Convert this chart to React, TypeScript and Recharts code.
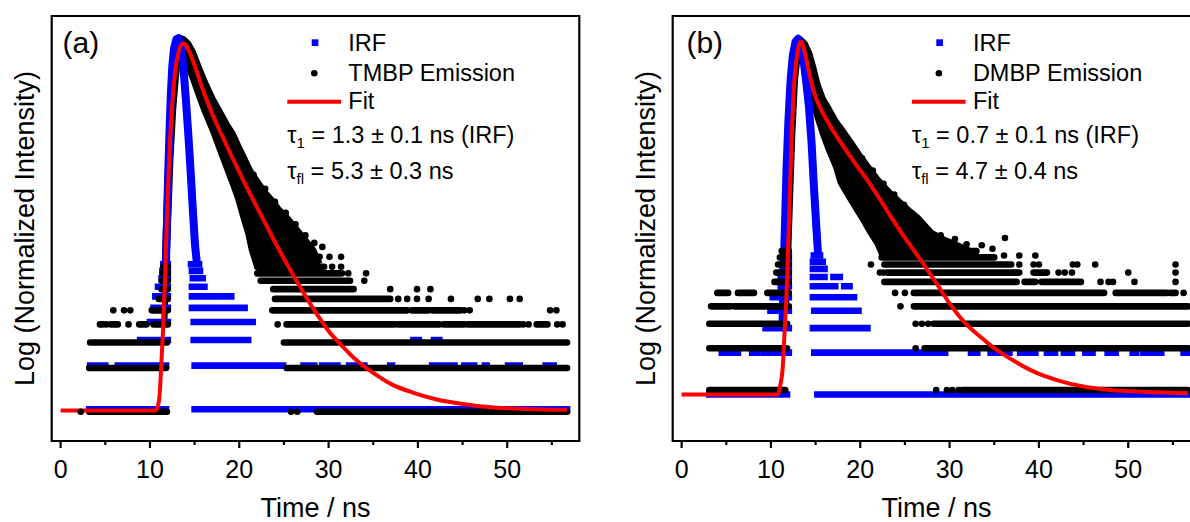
import React from "react";
import { ComposedChart, Line, Area, Scatter, XAxis, YAxis, ReferenceArea } from "recharts";

const FONT = "'Liberation Sans', Arial, Helvetica, sans-serif";
const BLUE = "#0000ff";
const RED = "#ff0000";
const BLACK = "#000000";

// ---------------- axes ----------------
const xTicks = [0, 5, 10, 15, 20, 25, 30, 35, 40, 45, 50, 55];
const xDomain: [number, number] = [-1.0, 58.07];
const yDomainA: [number, number] = [0.628, 536];
const yDomainB: [number, number] = [0.43, 491];

// photon-count levels (plotted values) of the banded rows
const emisLevels = [1, 2, 3, 4, 5, 6, 7, 8, 9, 10];
const irfLevelsA = [1.04, 2.08, 3.12, 4.16, 5.2, 6.24, 7.28, 8.32, 9.36, 10.4];
const irfLevelsB = [0.93, 1.86, 2.79, 3.72, 4.65, 5.58, 6.51, 7.44, 8.37, 9.3];

type Band = [number, number, number]; // [level, t start, t end]
type Pt = [number, number]; // [t, value]
type Cloud = [number, number, number]; // [t, low, high]

// ---------------- panel (a) ----------------
const irfBandsA: Band[] = [
  [1, 3.2, 11.8], [1, 15.0, 56.7],
  [2, 3.3, 4.0], [2, 4.4, 5.0], [2, 6.4, 8.2], [2, 8.6, 11.8], [2, 15.0, 24.9], [2, 27.2, 28.4],
  [2, 29.3, 31.0], [2, 32.3, 34.0], [2, 36.9, 37.1], [2, 41.6, 44.1], [2, 45.2, 46.3], [2, 47.5, 47.7],
  [2, 50.1, 51.4], [2, 54.3, 55.2],
  [3, 8.9, 12.0], [3, 14.9, 21.0], [3, 39.5, 40.1], [3, 41.8, 42.4],
  [4, 10.0, 12.0], [4, 14.9, 20.6], [4, 20.8, 21.5],
  [5, 10.4, 12.0], [5, 14.7, 20.0], [5, 20.2, 20.6],
  [6, 10.6, 12.0], [6, 14.7, 19.1],
  [7, 10.9, 12.0], [7, 14.7, 16.1],
  [8, 11.3, 12.0], [8, 14.8, 15.9],
  [9, 11.4, 12.0], [9, 14.7, 15.6],
  [10, 11.5, 12.0], [10, 14.6, 15.5],
];
const irfPeakA: Pt[] = [
  [11.75, 8], [11.9, 20], [12.05, 45], [12.2, 90], [12.35, 160], [12.5, 240], [12.7, 320], [12.95, 370],
  [13.2, 377], [13.45, 340], [13.65, 270], [13.85, 195], [14.05, 135], [14.25, 90], [14.45, 58],
  [14.65, 36], [14.85, 22], [15.05, 14], [15.3, 10],
];
const emisBandsA: Band[] = [
  [1, 3.2, 11.9], [1, 28.7, 56.7],
  [2, 3.2, 11.8], [2, 25.3, 56.7],
  [3, 3.3, 11.9], [3, 25.0, 56.7],
  [4, 4.4, 4.7], [4, 5.6, 6.4], [4, 8.8, 9.6], [4, 10.4, 12.0], [4, 25.3, 37.4], [4, 37.8, 42.4],
  [4, 42.9, 45.2], [4, 45.6, 51.4], [4, 53.3, 54.5],
  [5, 10.2, 12.0], [5, 23.7, 38.8], [5, 39.3, 41.2], [5, 41.6, 44.8],
  [6, 11.0, 12.0], [6, 24.0, 36.9],
  [7, 11.3, 12.0], [7, 23.8, 32.8],
  [8, 11.3, 12.0], [8, 22.4, 32.4],
  [9, 11.4, 12.0], [9, 22.0, 31.5],
  [10, 11.5, 12.0], [10, 22.0, 29.5],
];
const emisDotsA: Pt[] = [
  [2.25, 1], [25.8, 1], [26.5, 1],
  [5.1, 4], [7.6, 4], [24.3, 4], [51.8, 4], [52.4, 4], [55.6, 4], [56.2, 4],
  [5.9, 5], [7.1, 5], [7.8, 5], [45.2, 5], [45.8, 5], [54.8, 5], [55.5, 5],
  [37.8, 6], [38.8, 6], [39.9, 6], [41.2, 6], [43.7, 6], [46.7, 6], [48.0, 6], [50.3, 6], [51.4, 6],
  [36.9, 7], [39.9, 7], [41.4, 7],
  [34.0, 8],
  [32.2, 9], [34.2, 9],
  [30.4, 10], [31.4, 10],
  [29.0, 11.7], [30.1, 11.7], [31.4, 11.7], [29.3, 13.7],
  [28.4, 14.6], [27.4, 16.5], [26.3, 19.6], [25.2, 23.5], [24.0, 28], [22.9, 34.5], [21.6, 43],
  [20.6, 54], [19.4, 70], [18.3, 88],
];
const emisCloudA: Cloud[] = [
  [11.6, 4, 8], [11.8, 8, 20], [12.0, 18, 45], [12.3, 55, 110], [12.6, 120, 210], [12.9, 200, 300],
  [13.2, 290, 360], [13.5, 330, 377], [13.8, 300, 370], [14.3, 240, 345], [14.85, 195, 300],
  [15.5, 150, 235], [16.2, 115, 185], [17.0, 88, 145], [17.8, 65, 118], [18.6, 48, 96], [19.3, 37, 82],
  [19.9, 29, 68], [20.45, 22, 58], [21.0, 17, 49], [21.4, 13, 44], [22.0, 10, 39], [22.8, 9.5, 33],
  [23.6, 9.5, 29], [24.4, 9.5, 25], [25.3, 9.5, 22], [26.0, 9.5, 19.5], [26.8, 9.5, 17], [27.5, 9.5, 15],
  [28.3, 9.5, 13], [29.0, 9.5, 10.5],
];
const fitA: Pt[] = [
  [0, 1.02], [10.6, 1.02], [10.9, 1.1], [11.1, 1.35], [11.3, 2.3], [11.5, 4.0], [11.7, 8.5], [11.9, 22],
  [12.1, 45], [12.3, 85], [12.6, 160], [12.9, 240], [13.2, 300], [13.5, 338], [13.75, 346], [14.0, 338],
  [14.4, 305], [15.0, 245], [15.8, 175], [16.8, 120], [18.0, 82], [19.2, 57], [20.5, 39], [21.8, 27],
  [23.0, 19.5], [24.2, 14], [25.4, 10.3], [26.5, 7.8], [27.6, 6.0], [28.8, 4.6], [30.0, 3.6], [31.5, 2.85],
  [33.0, 2.3], [35.0, 1.85], [37.0, 1.55], [39.5, 1.35], [42.0, 1.22], [45.0, 1.13], [48.5, 1.07],
  [52.0, 1.045], [56.7, 1.03],
];

// ---------------- panel (b) ----------------
const irfBandsB: Band[] = [
  [1, 3.1, 11.8], [1, 15.2, 56.7],
  [2, 4.5, 5.3], [2, 5.5, 6.3], [2, 7.9, 8.5], [2, 9.25, 12.0], [2, 14.85, 21.7], [2, 21.9, 22.7],
  [2, 23.1, 23.9], [2, 24.4, 25.1], [2, 25.7, 28.2], [2, 28.7, 29.5], [2, 32.4, 33.1], [2, 34.6, 35.2],
  [2, 35.8, 36.7], [2, 37.9, 39.6], [2, 40.9, 41.8], [2, 42.8, 43.7], [2, 45.2, 46.0], [2, 47.7, 48.6],
  [2, 50.5, 50.9], [2, 51.7, 52.4], [2, 53.0, 53.7], [2, 56.2, 56.7],
  [3, 9.4, 12.0], [3, 14.7, 20.8],
  [4, 9.95, 12.0], [4, 14.85, 19.8],
  [5, 10.2, 12.0], [5, 14.7, 16.4], [5, 17.0, 19.3],
  [6, 11.1, 12.0], [6, 14.7, 16.4], [6, 16.6, 17.2], [6, 18.2, 18.8],
  [7, 11.1, 12.0], [7, 14.7, 16.0], [7, 17.0, 17.7],
  [8, 11.3, 12.0], [8, 14.7, 16.0],
  [9, 11.5, 12.0], [9, 14.7, 15.8],
  [10, 11.6, 12.0], [10, 14.8, 15.5],
];
const irfPeakB: Pt[] = [
  [11.3, 3], [11.45, 8], [11.6, 18], [11.75, 40], [11.95, 85], [12.2, 170], [12.45, 255], [12.75, 320],
  [13.05, 337], [13.35, 305], [13.65, 235], [13.95, 165], [14.25, 110], [14.55, 60], [14.8, 30],
  [15.05, 16], [15.3, 9],
];
const emisBandsB: Band[] = [
  [1, 3.1, 11.6], [1, 31.4, 56.7],
  [2, 3.1, 11.8], [2, 27.2, 56.7],
  [3, 3.1, 11.8], [3, 28.2, 56.7],
  [4, 3.3, 5.5], [4, 5.9, 9.6], [4, 9.8, 12.0], [4, 26.0, 56.7],
  [5, 4.0, 5.2], [5, 6.3, 8.1], [5, 9.6, 12.0], [5, 26.0, 47.3], [5, 48.6, 54.3], [5, 54.7, 55.3],
  [6, 10.4, 12.0], [6, 22.7, 37.5], [6, 38.4, 39.6], [6, 40.3, 44.7],
  [7, 10.6, 12.0], [7, 23.0, 37.8], [7, 39.4, 40.9],
  [8, 10.8, 12.0], [8, 22.7, 36.9],
  [9, 11.0, 12.0], [9, 22.4, 35.0],
  [10, 11.2, 12.0], [10, 22.4, 33.0],
];
const emisDotsB: Pt[] = [
  [28.5, 1], [29.7, 1], [30.3, 1], [31.0, 1],
  [26.2, 2],
  [26.2, 3], [26.9, 3], [27.6, 3],
  [24.5, 4],
  [23.9, 5], [25.0, 5], [56.2, 5],
  [46.9, 6], [47.8, 6], [48.3, 6], [50.7, 6], [55.3, 6],
  [22.2, 7], [22.6, 7], [42.2, 7], [42.9, 7], [43.7, 7], [50.0, 7], [55.3, 7],
  [21.2, 8], [37.8, 8], [39.4, 8], [40.0, 8], [43.8, 8], [44.3, 8], [46.3, 8], [55.3, 8],
  [36.1, 9.3], [37.8, 9.3], [39.6, 9.3],
  [36.2, 12.4], [27.6, 12.6], [29.0, 13.0], [30.6, 12.2], [31.9, 11.2], [33.6, 11.0], [34.8, 10.4],
  [25.9, 18.4], [24.9, 21.5], [23.8, 25.5], [22.6, 30.5], [21.4, 38], [20.2, 46.5], [18.9, 59],
];
const emisCloudB: Cloud[] = [
  [11.7, 4, 8], [11.9, 8, 20], [12.1, 20, 50], [12.4, 70, 150], [12.7, 170, 255], [13.0, 255, 320],
  [13.3, 300, 333], [13.8, 240, 310], [14.3, 170, 265], [14.7, 122, 215], [15.2, 92, 160],
  [15.8, 70, 125], [16.5, 53, 105], [17.3, 40, 85], [17.8, 31, 77], [19.0, 23, 60], [20.1, 17.7, 47],
  [21.2, 13.4, 38], [21.9, 11.4, 33], [22.4, 9.6, 30.5], [23.5, 9.5, 25.5], [24.6, 9.5, 22],
  [25.5, 9.5, 19.5], [26.4, 9.5, 17.5], [28.0, 9.5, 13.5], [29.5, 9.5, 12], [30.9, 9.5, 11],
  [32.0, 9.5, 10.2], [33.0, 9.5, 9.6],
];
const fitB: Pt[] = [
  [0, 0.93], [10.8, 0.93], [11.0, 1.05], [11.3, 1.4], [11.55, 2.8], [11.8, 6], [12.0, 15], [12.3, 60],
  [12.6, 160], [12.9, 250], [13.15, 305], [13.35, 320], [13.6, 300], [13.9, 250], [14.3, 190],
  [14.8, 140], [15.5, 108], [16.5, 82], [18.0, 58], [19.5, 42], [21.0, 31], [22.5, 22], [24.0, 15.5],
  [25.5, 11.2], [27.0, 8.2], [28.5, 5.9], [30.0, 4.2], [31.8, 3.0], [33.5, 2.4], [35.0, 2.0],
  [37.0, 1.65], [39.5, 1.35], [42.0, 1.18], [45.0, 1.06], [48.0, 1.0], [52.0, 0.97], [56.7, 0.95],
];

// ---------------- helpers ----------------
function bandSeries(bands: Band[], levels: number[]) {
  const byLevel = new Map<number, Band[]>();
  bands.forEach((b) => {
    if (!byLevel.has(b[0])) byLevel.set(b[0], []);
    byLevel.get(b[0])!.push(b);
  });
  return Array.from(byLevel.entries()).map(([lvl, list]) => {
    const sorted = [...list].sort((a, b) => a[1] - b[1]);
    const data: { t: number; v: number | null }[] = [];
    sorted.forEach((b, i) => {
      if (i > 0) data.push({ t: (sorted[i - 1][2] + b[1]) / 2, v: null });
      data.push({ t: b[1], v: levels[lvl - 1] }, { t: b[2], v: levels[lvl - 1] });
    });
    return { lvl, data };
  });
}
const toRows = (pts: Pt[]) => pts.map(([t, v]) => ({ t, v }));
const toCloud = (c: Cloud[]) => c.map(([t, lo, hi]) => ({ t, r: [lo, hi] }));

const Tick = (props: any) => {
  const { x, y, payload } = props;
  const major = payload.value % 10 === 0;
  return (
    <g>
      <line x1={x} x2={x} y1={y} y2={y + (major ? 7 : 4)} stroke={BLACK} strokeWidth={2.2} />
      {major && (
        <text x={x} y={y + 36.5} textAnchor="middle" fontSize={25} fontFamily={FONT} fill={BLACK}>
          {payload.value}
        </text>
      )}
    </g>
  );
};

const dotShape = (p: any) => <circle cx={p.cx} cy={p.cy} r={3.3} fill={BLACK} />;

interface PanelProps {
  left: number;
  tag: string;
  sample: string;
  tau1: string;
  taufl: string;
  yDomain: [number, number];
  irfLevels: number[];
  irfBands: Band[];
  irfPeak: Pt[];
  emisBands: Band[];
  emisDots: Pt[];
  emisCloud: Cloud[];
  fit: Pt[];
  dx: number;
  tagDx: number;
}

const W = 600;
const H = 522;
const margin = { top: 16, right: 20.7, bottom: 51, left: 51.7 };

function Panel(p: PanelProps) {
  const irfSeries = bandSeries(p.irfBands, p.irfLevels);
  const emisSeries = bandSeries(p.emisBands, emisLevels);
  const plotCx = margin.left + (W - margin.left - margin.right) / 2;
  const plotCy = margin.top + (H - margin.top - margin.bottom - 30) / 2;
  return (
    <div style={{ position: "absolute", left: p.left, top: 0, width: W, height: H }}>
      <ComposedChart width={W} height={H} margin={margin}>
        <XAxis
          type="number"
          dataKey="t"
          domain={xDomain}
          allowDataOverflow
          ticks={xTicks}
          interval={0}
          tick={<Tick />}
          tickLine={false}
          axisLine={false}
          tickSize={0}
          tickMargin={0}
          height={30}
        />
        <YAxis type="number" dataKey="v" scale="log" domain={p.yDomain} allowDataOverflow hide />
        {irfSeries.map((s) => (
          <Line
            key={"irf" + s.lvl}
            data={s.data}
            dataKey="v"
            stroke={BLUE}
            strokeWidth={6.6}
            strokeLinecap="square"
            dot={false}
            activeDot={false}
            isAnimationActive={false}
          />
        ))}
        <Line
          data={toRows(p.irfPeak)}
          dataKey="v"
          stroke={BLUE}
          strokeWidth={8}
          strokeLinejoin="round"
          dot={false}
          activeDot={false}
          isAnimationActive={false}
        />
        <Area
          data={toCloud(p.emisCloud)}
          dataKey="r"
          type="linear"
          stroke={BLACK}
          strokeWidth={6}
          strokeLinejoin="round"
          fill={BLACK}
          fillOpacity={1}
          dot={false}
          activeDot={false}
          isAnimationActive={false}
        />
        {emisSeries.map((s) => (
          <Line
            key={"em" + s.lvl}
            data={s.data}
            dataKey="v"
            stroke={BLACK}
            strokeWidth={6.6}
            strokeLinecap="round"
            dot={false}
            activeDot={false}
            isAnimationActive={false}
          />
        ))}
        <Scatter data={toRows(p.emisDots)} dataKey="v" shape={dotShape} isAnimationActive={false} />
        <Line
          data={toRows(p.fit)}
          dataKey="v"
          type="monotone"
          stroke={RED}
          strokeWidth={4}
          dot={false}
          activeDot={false}
          isAnimationActive={false}
        />
        <ReferenceArea
          x1={xDomain[0]}
          x2={xDomain[1]}
          y1={p.yDomain[0]}
          y2={p.yDomain[1]}
          fill="none"
          fillOpacity={0}
          stroke={BLACK}
          strokeWidth={2.2}
          ifOverflow="visible"
        />
      </ComposedChart>
      <svg
        width={W}
        height={H}
        style={{ position: "absolute", left: 0, top: 0, pointerEvents: "none" }}
        fontFamily={FONT}
      >
        <text x={62.5 + p.tagDx} y={53} fontSize={30} fill={BLACK}>
          {"(" + p.tag + ")"}
        </text>
        <rect x={311.7 + p.dx} y={39.3} width={6.7} height={6.7} fill={BLUE} />
        <text x={348.3 + p.dx} y={50.7} fontSize={23.5} fill={BLACK}>
          IRF
        </text>
        <circle cx={314.3 + p.dx} cy={73.3} r={3.3} fill={BLACK} />
        <text x={348.3 + p.dx} y={81} fontSize={23.5} fill={BLACK}>
          {p.sample + " Emission"}
        </text>
        <line x1={287.3 + p.dx} x2={341 + p.dx} y1={101.7} y2={101.7} stroke={RED} strokeWidth={4} />
        <text x={348.3 + p.dx} y={109} fontSize={23.5} fill={BLACK}>
          Fit
        </text>
        <text x={287.3 + p.dx} y={143.3} fontSize={23.5} fill={BLACK}>
          τ
          <tspan dy={5} fontSize={15}>
            1
          </tspan>
          <tspan dy={-5}>{" = " + p.tau1}</tspan>
        </text>
        <text x={287.3 + p.dx} y={179.3} fontSize={23.5} fill={BLACK}>
          τ
          <tspan dy={5} fontSize={15}>
            fl
          </tspan>
          <tspan dy={-5}>{" = " + p.taufl}</tspan>
        </text>
        <text
          transform={`translate(34.1, ${plotCy}) rotate(-90)`}
          textAnchor="middle"
          fontSize={27}
          fill={BLACK}
        >
          Log (Normalized Intensity)
        </text>
        <text x={plotCx} y={517} textAnchor="middle" fontSize={27} fill={BLACK}>
          Time / ns
        </text>
      </svg>
    </div>
  );
}

export default function App() {
  return (
    <div
      style={{
        position: "absolute",
        left: 0,
        top: 0,
        width: 1190,
        height: 522,
        overflow: "hidden",
        background: "#ffffff",
      }}
    >
      <Panel
        left={0}
        tag="a"
        sample="TMBP"
        tau1="1.3 ± 0.1 ns (IRF)"
        taufl="5.3 ± 0.3 ns"
        yDomain={yDomainA}
        irfLevels={irfLevelsA}
        irfBands={irfBandsA}
        irfPeak={irfPeakA}
        emisBands={emisBandsA}
        emisDots={emisDotsA}
        emisCloud={emisCloudA}
        fit={fitA}
        dx={0}
        tagDx={0}
      />
      <Panel
        left={620.6}
        tag="b"
        sample="DMBP"
        tau1="0.7 ± 0.1 ns (IRF)"
        taufl="4.7 ± 0.4 ns"
        yDomain={yDomainB}
        irfLevels={irfLevelsB}
        irfBands={irfBandsB}
        irfPeak={irfPeakB}
        emisBands={emisBandsB}
        emisDots={emisDotsB}
        emisCloud={emisCloudB}
        fit={fitB}
        dx={3.6}
        tagDx={2.9}
      />
    </div>
  );
}
